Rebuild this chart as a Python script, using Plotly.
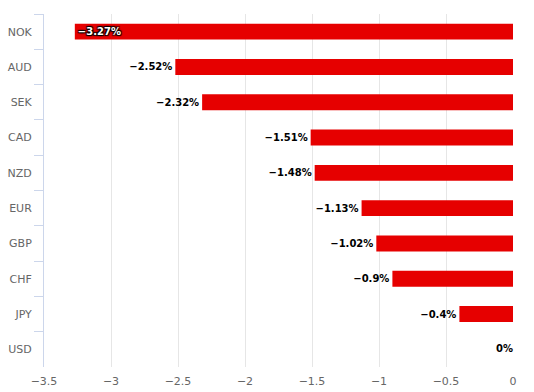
import plotly.graph_objects as go

categories = ["NOK", "AUD", "SEK", "CAD", "NZD", "EUR", "GBP", "CHF", "JPY", "USD"]
values = [-3.27, -2.52, -2.32, -1.51, -1.48, -1.13, -1.02, -0.9, -0.4, 0]
x_ticks = [-3.5, -3, -2.5, -2, -1.5, -1, -0.5, 0]

labels = [f"{v:g}%".replace("-", "\u2212") for v in values]
positions = ["inside" if v < -3 else ("outside" if v < 0 else "none") for v in values]
bar_text = [t if v < 0 else "" for t, v in zip(labels, values)]

fig = go.Figure(go.Bar(
    y=categories, x=values, orientation="h",
    marker=dict(color="#e60000", line=dict(width=0)),
    width=0.45,
    text=bar_text, textposition=positions,
    insidetextanchor="end",
    constraintext="none",
    insidetextfont=dict(family="DejaVu Sans", size=10, color="white", weight="bold",
                        shadow="1px 1px 1px #000, -1px -1px 1px #000, 1px -1px 1px #000, -1px 1px 1px #000"),
    outsidetextfont=dict(family="DejaVu Sans", size=10, color="black", weight="bold"),
    cliponaxis=False,
    textangle=0,
    hoverinfo="skip",
))

zero_cats = [c for c, v in zip(categories, values) if v == 0]
zero_vals = [v for v in values if v == 0]
zero_labels = [t for t, v in zip(labels, values) if v == 0]
fig.add_trace(go.Scatter(
    y=zero_cats, x=zero_vals, mode="text", text=zero_labels,
    textposition="middle left",
    textfont=dict(family="DejaVu Sans", size=10, color="black", weight="bold"),
    cliponaxis=False, hoverinfo="skip",
))

fig.update_layout(
    width=534, height=392,
    margin=dict(l=44, r=21, t=14, b=25),
    plot_bgcolor="white", paper_bgcolor="white",
    showlegend=False,
    font=dict(family="DejaVu Sans", size=11, color="#666666"),
    bargap=0.55,
)
fig.update_xaxes(range=[-3.5, 0], tickvals=x_ticks, showgrid=True, gridcolor="#e6e6e6",
                 gridwidth=1, zeroline=False, showline=False, ticks="", automargin=False,
                 tickfont=dict(size=11, color="#666666"), ticklabelstandoff=6)
fig.update_yaxes(autorange="reversed", showline=True, linecolor="#ccd6eb", linewidth=1,
                 ticks="outside", tickson="boundaries", ticklen=9, tickcolor="#ccd6eb",
                 showgrid=False, automargin=False, tickfont=dict(size=11, color="#666666"),
                 ticklabelstandoff=9)

fig.write_html("out.html", config={"displayModeBar": False},
               post_script="document.body.style.margin='0';")
